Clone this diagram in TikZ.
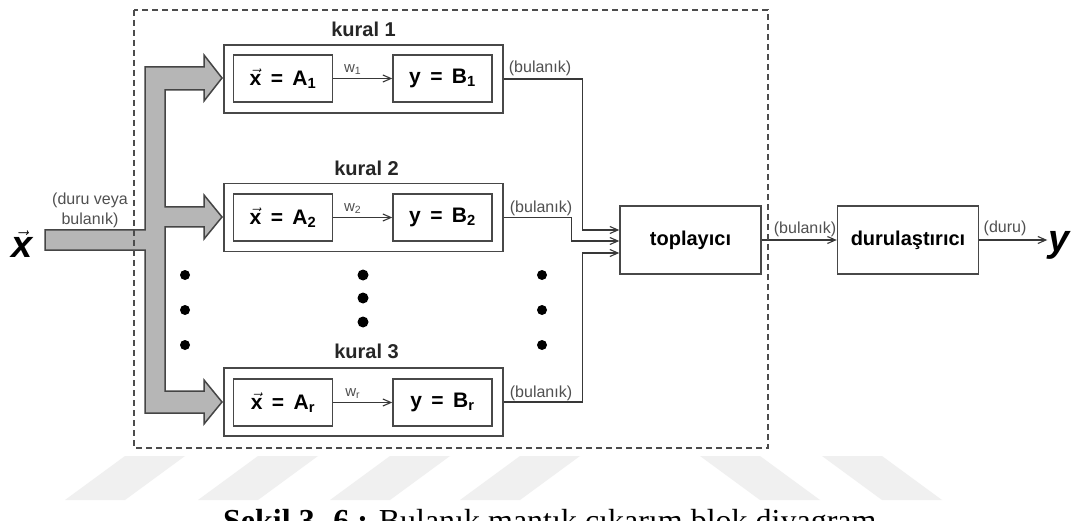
\documentclass[tikz,border=0pt]{standalone}
\usepackage{fontspec}
\setmainfont{Liberation Sans}
\newfontfamily\capfont{Liberation Serif}
\usetikzlibrary{arrows.meta,calc}
\definecolor{lc}{HTML}{383838}
\definecolor{boxc}{HTML}{484848}
\definecolor{lblc}{HTML}{505050}
\definecolor{bandfill}{HTML}{B6B6B6}
\definecolor{bandline}{HTML}{454545}
\definecolor{wm}{HTML}{F0F0F0}
\newcommand{\vx}{$\vec{\hbox{x}}$}
\newcommand{\eqsp}{\hspace{0.45em}}
\begin{document}
\begin{tikzpicture}[x=1pt,y=-1pt,
  outerbox/.style={draw=boxc,line width=1.6pt,minimum width=279pt,minimum height=68pt,inner sep=0pt},
  innerbox/.style={draw=boxc,line width=1.5pt,minimum width=99pt,minimum height=47pt,inner sep=0pt,
     font=\fontsize{21}{25}\selectfont\bfseries},
  bigbox/.style={draw=boxc,line width=1.5pt,minimum width=141pt,minimum height=68pt,inner sep=0pt,
     font=\fontsize{20}{24}\selectfont\bfseries},
  rulelbl/.style={anchor=base,inner sep=0pt,font=\fontsize{20}{24}\selectfont\bfseries,text=black!85},
  smalllbl/.style={inner sep=0pt,font=\fontsize{16}{20}\selectfont,text=lblc},
  wlbl/.style={inner sep=0pt,font=\fontsize{15}{17}\selectfont,text=lblc},
  conn/.style={draw=lc,line width=1.1pt,-{Straight Barb[length=8pt,width=7pt]}},
  band/.style={fill=bandfill,draw=bandline,line width=1.5pt,line join=miter},
  dashbox/.style={draw=black!70,line width=1.2pt,dash pattern=on 6pt off 4pt},
  dot/.style={circle,fill=black,inner sep=0pt,minimum size=10pt},
  bigdot/.style={circle,fill=black,inner sep=0pt,minimum size=11pt},
  iolbl/.style={inner sep=1pt,font=\fontsize{38}{40}\selectfont\bfseries\itshape}
]
\useasboundingbox (0,0) rectangle (1075,521);
\clip (0,0) rectangle (1075,521);
\fill[white] (0,0) rectangle (1075,521);

% watermark stripes
\foreach \b in {65,198,330,460}{
  \fill[wm] (\b,500) -- (\b+60,500) -- (\b+120,456) -- (\b+60,456) -- cycle;
}
\foreach \b in {700,822}{
  \fill[wm] (\b,456) -- (\b+60,456) -- (\b+120,500) -- (\b+60,500) -- cycle;
}

% thick grey input arrow
\draw[band] (45,230) -- (145,230) -- (145,67) -- (204,67) -- (204,55) -- (222,78) -- (204,101) -- (204,90)
  -- (165,90) -- (165,207) -- (204,207) -- (204,195) -- (222,217) -- (204,239) -- (204,227)
  -- (165,227) -- (165,391) -- (204,391) -- (204,380) -- (222,402) -- (204,424) -- (204,413)
  -- (145,413) -- (145,250) -- (45,250) -- cycle;

% rule boxes
\node[outerbox] (k1) at (363.5,79) {};
\node[innerbox] (a1) at (283,78.5) {\vx\eqsp=\eqsp A\textsubscript{1}};
\node[innerbox] (b1) at (442.5,78.5) {y\eqsp=\eqsp B\textsubscript{1}};
\node[rulelbl] (l1) at ([yshift=8pt]k1.north) {kural 1};

\node[outerbox] (k2) at (363.5,217.5) {};
\node[innerbox] (a2) at (283,217.5) {\vx\eqsp=\eqsp A\textsubscript{2}};
\node[innerbox] (b2) at (442.5,217.5) {y\eqsp=\eqsp B\textsubscript{2}};
\node[rulelbl] (l2) at ([xshift=3pt,yshift=7pt]k2.north) {kural 2};

\node[outerbox] (k3) at (363.5,402) {};
\node[innerbox] (a3) at (283,402.5) {\vx\eqsp=\eqsp A\textsubscript{r}};
\node[innerbox] (b3) at (442.5,402.5) {y\eqsp=\eqsp B\textsubscript{r}};
\node[rulelbl] (l3) at ([xshift=3pt,yshift=9pt]k3.north) {kural 3};

\draw[conn] (a1.east) -- node[wlbl,pos=0.33,above=3pt] (w1) {w\textsubscript{1}} (b1.west);
\draw[conn] (a2.east) -- node[wlbl,pos=0.33,above=3pt] (w2) {w\textsubscript{2}} (b2.west);
\draw[conn] (a3.east) -- node[wlbl,pos=0.33,above=3pt] (w3) {w\textsubscript{r}} (b3.west);

% dots
\node[dot] (d1) at (185,275) {};
\node[dot] (d2) at (185,310) {};
\node[dot] (d3) at (185,345) {};
\node[bigdot] (d4) at (363,275) {};
\node[bigdot] (d5) at (363,298) {};
\node[bigdot] (d6) at (363,322) {};
\node[dot] (d7) at (542,275) {};
\node[dot] (d8) at (542,310) {};
\node[dot] (d9) at (542,345) {};

% aggregator and defuzzifier
\node[bigbox] (top) at (690.5,240) {toplayıcı};
\node[bigbox] (dur) at (908,240) {durulaştırıcı};

\draw[conn] (k1.east) -- ++(79,0) |- ([yshift=10pt]top.west);
\draw[conn] (k2.east) -- ++(68,0) |- ([yshift=-1pt]top.west);
\draw[conn] (k3.east) -- ++(79,0) |- ([yshift=-13pt]top.west);

\node[smalllbl] (bl1) at (540,68) {(bulanık)};
\node[smalllbl] (bl2) at (541,208) {(bulanık)};
\node[smalllbl] (bl3) at (541,393) {(bulanık)};

% input / output
\node[iolbl] (xin) at (22,244) {\vx};
\node[smalllbl,align=center] (inl) at (90,210) {(duru veya\\bulanık)};

\node[iolbl] (yout) at (1059,245) {y};
\draw[conn] (top.east) -- (dur.west);
\draw[conn] (dur.east) -- (dur.east -| yout.west);
\node[smalllbl] (bl4) at (805,229) {(bulanık)};
\node[smalllbl] (dl) at (1005,228) {(duru)};

% dashed frame
\draw[dashbox] (134,10) rectangle (768,448);

% caption (cut by the lower edge, as in the reference)
\node[anchor=base west,inner sep=0pt,font=\capfont\fontsize{32}{36}\selectfont] (cap) at (223,531)
  {\textbf{Şekil 3. 6 :} Bulanık mantık çıkarım blok diyagram};
\end{tikzpicture}
\end{document}
